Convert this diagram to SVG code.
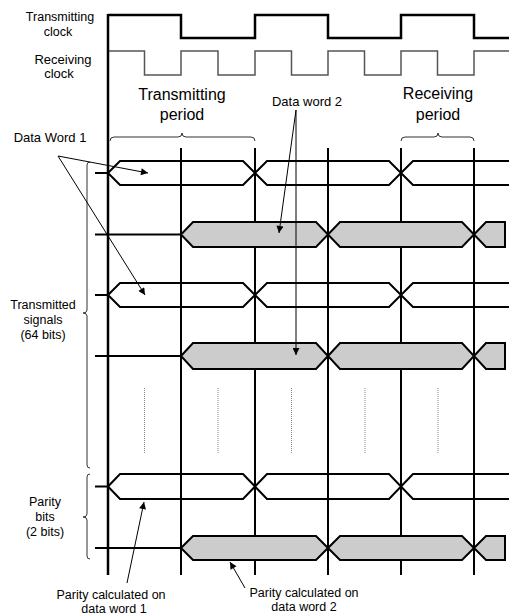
<svg xmlns="http://www.w3.org/2000/svg" width="509" height="616" viewBox="0 0 509 616">
<defs>
<style>
text{font-family:"Liberation Sans",Arial,sans-serif;font-size:12.5px;fill:#000;text-anchor:middle}
.big{font-size:16px}
.m{font-size:13px}
.grid{stroke:#000;stroke-width:2;fill:none}
.bus{stroke:#000;stroke-width:2;fill:none;stroke-linejoin:miter}
.busg{stroke:#000;stroke-width:2;fill:#cccccc;stroke-linejoin:miter}
.brace{stroke:#333;stroke-width:1;fill:none}
.arr{stroke:#000;stroke-width:1;fill:none;marker-end:url(#ah)}
.dot{stroke:#888;stroke-width:1;stroke-dasharray:1 1;fill:none}
</style>
<marker id="ah" viewBox="0 0 10 10" refX="10" refY="5" markerWidth="8" markerHeight="7" markerUnits="userSpaceOnUse" orient="auto">
<path d="M0,0 L10,5 L0,10 z" fill="#000"/>
</marker>
</defs>
<rect width="509" height="616" fill="#fff"/>

<g id="labels">
<text x="60" y="20.5">Transmitting</text>
<text x="58" y="36">clock</text>
<text class="m" x="63" y="63.5">Receiving</text>
<text class="m" x="59" y="78">clock</text>
<text class="big" x="182" y="100">Transmitting</text>
<text class="big" x="182" y="120">period</text>
<text class="big" x="438" y="99">Receiving</text>
<text class="big" x="438" y="120">period</text>
<text class="m" x="307" y="105.5">Data word 2</text>
<text class="m" x="50" y="142">Data Word 1</text>
<text x="43" y="309">Transmitted</text>
<text x="43" y="324">signals</text>
<text x="43" y="339">(64 bits)</text>
<text x="45" y="506">Parity</text>
<text x="45" y="521">bits</text>
<text x="45" y="536">(2 bits)</text>
<text x="111" y="599">Parity calculated on</text>
<text x="114" y="613">data word 1</text>
<text x="304" y="597">Parity calculated on</text>
<text x="304" y="611">data word 2</text>
</g>

<g id="clocks">
<path d="M108,15 H181 V38 H255 V15 H328 V38 H401 V15 H474 V38 H509" stroke="#000" stroke-width="2.5" fill="none"/>
<path d="M108,51 H144.5 V75 H181 V51 H218 V75 H255 V51 H291.5 V75 H328 V51 H364.5 V75 H401 V51 H437.5 V75 H474 V51 H509" stroke="#555" stroke-width="1.5" fill="none"/>
</g>

<g id="grid">
<line x1="108" y1="14" x2="108" y2="575" stroke="#000" stroke-width="2.5"/>
<path class="grid" d="M181,148 V575 M255,148 V575 M328,148 V575 M401,148 V575 M474,148 V575"/>
<path class="dot" d="M144.5,388 V453 M218,388 V453 M291.5,388 V453 M365,388 V453 M438,388 V453"/>
</g>

<g id="braces">
<path class="brace" d="M110,141 Q110,137 114,137 L178,137 Q182,137 182,133 Q182,137 186,137 L251,137 Q255,137 255,141"/>
<path class="brace" d="M401,141 Q401,137 405,137 L434,137 Q438,137 438,133 Q438,137 442,137 L470,137 Q474,137 474,141"/>
<path class="brace" d="M90,162 Q87,162 87,165 L87,310 Q87,313 83,313 Q87,313 87,316 L87,465 Q87,468 90,468"/>
<path class="brace" d="M90,474 Q87,474 87,477 L87,514 Q87,517 83,517 Q87,517 87,520 L87,556 Q87,559 90,559"/>
</g>

<g id="row1">
<path class="bus" d="M95,173 H108 M108,173 L120,161 H243 L255,173 L243,185 H120 Z M255,173 L267,161 H389 L401,173 L389,185 H267 Z M401,173 L413,161 H509 M401,173 L413,185 H509"/>
</g>
<g id="row2">
<path class="bus" d="M95,234.5 H181"/>
<path class="busg" d="M181,234.5 L193,222 H316 L328,234.5 L316,247 H193 Z M328,234.5 L340,222 H462 L474,234.5 L462,247 H340 Z M474,234.5 L486,222 H505 V247 H486 Z"/>
</g>
<g id="row3">
<path class="bus" d="M95,295 H108 M108,295 L120,283 H243 L255,295 L243,307 H120 Z M255,295 L267,283 H389 L401,295 L389,307 H267 Z M401,295 L413,283 H509 M401,295 L413,307 H509"/>
</g>
<g id="row4">
<path class="bus" d="M95,356 H181"/>
<path class="busg" d="M181,356 L193,343 H316 L328,356 L316,369 H193 Z M328,356 L340,343 H462 L474,356 L462,369 H340 Z M474,356 L486,343 H505 V369 H486 Z"/>
</g>
<g id="row5">
<path class="bus" d="M95,486.5 H108 M108,486.5 L120,474 H243 L255,486.5 L243,499 H120 Z M255,486.5 L267,474 H389 L401,486.5 L389,499 H267 Z M401,486.5 L413,474 H509 M401,486.5 L413,499 H509"/>
</g>
<g id="row6">
<path class="bus" d="M95,548 H181"/>
<path class="busg" d="M181,548 L193,536 H316 L328,548 L316,560 H193 Z M328,548 L340,536 H462 L474,548 L462,560 H340 Z M474,548 L486,536 H505 V560 H486 Z"/>
</g>

<g id="connectors">
<line class="arr" x1="58" y1="156" x2="148" y2="173"/>
<line class="arr" x1="58" y1="156" x2="145" y2="295"/>
<line class="arr" x1="296" y1="110" x2="279" y2="233"/>
<line class="arr" x1="296" y1="110" x2="296" y2="355"/>
<line class="arr" x1="127" y1="583" x2="144" y2="502"/>
<line class="arr" x1="245" y1="588" x2="230" y2="562"/>
</g>
</svg>
